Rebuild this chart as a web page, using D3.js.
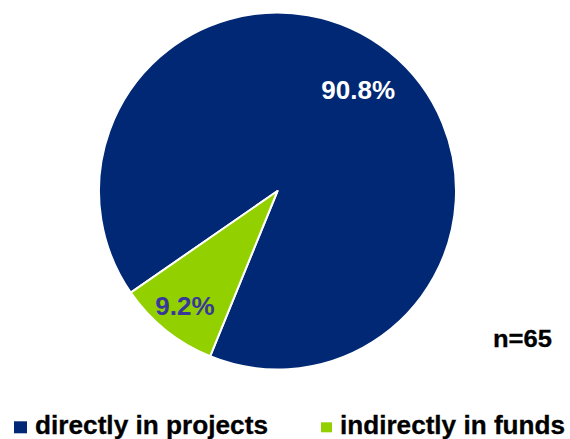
<!DOCTYPE html>
<html>
<head>
<meta charset="utf-8">
<script src="https://cdn.jsdelivr.net/npm/d3@7"></script>
<style>
  html, body { margin: 0; padding: 0; background: #fff; }
  svg { display: block; }
  text { font-family: "Liberation Sans", Arial, sans-serif; font-weight: bold; }
</style>
</head>
<body>
<svg id="chart" width="570" height="439"></svg>
<script>
// Investment channel shares
const categories = ["directly in projects", "indirectly in funds"];
const shares = [90.8, 9.2];
const sampleNote = "n=65";

const colors = ["#012874", "#92d000"];
const labelColors = ["#ffffff", "#38389a"];

const W = 570, H = 439;
const cx = 277.5, cy = 191, R = 178.5;
const startDeg = 235.3;

const svg = d3.select("#chart");

const pie = d3.pie()
  .sort(null)
  .value(d => d.value)
  .startAngle(startDeg * Math.PI / 180)
  .endAngle(startDeg * Math.PI / 180 + 2 * Math.PI);

const data = categories.map((c, i) => ({ name: c, value: shares[i], i }));
const arcs = pie(data);

const arc = d3.arc().innerRadius(0).outerRadius(R);

const g = svg.append("g").attr("transform", `translate(${cx},${cy})`);

g.selectAll("path.slice")
  .data(arcs)
  .join("path")
  .attr("class", "slice")
  .attr("d", arc)
  .attr("fill", d => colors[d.data.i])
  .attr("stroke", "#ffffff")
  .attr("stroke-width", 2)
  .attr("stroke-linejoin", "round");

// Value labels, placed along each slice's mid-angle
const labelRadius = [129, 148];
g.selectAll("text.value")
  .data(arcs)
  .join("text")
  .attr("class", "value")
  .attr("transform", d => {
    const r = labelRadius[d.data.i];
    const c = d3.arc().innerRadius(r).outerRadius(r).centroid(d);
    return `translate(${c[0]},${c[1]})`;
  })
  .attr("text-anchor", "middle")
  .attr("dominant-baseline", "central")
  .attr("font-size", 26)
  .attr("fill", d => labelColors[d.data.i])
  .text(d => d3.format(".1f")(d.data.value) + "%");

// Sample size note
svg.append("text")
  .attr("x", 493)
  .attr("y", 347)
  .attr("font-size", 24.5)
  .attr("textLength", 59)
  .attr("lengthAdjust", "spacingAndGlyphs")
  .attr("fill", "#000")
  .attr("stroke", "#000")
  .attr("stroke-width", 0.3)
  .text(sampleNote);

// Legend
const legendX = [14, 321];
const swatchW = [13, 11];
const swatchH = [12, 10];
const legendTextWidth = [233, 225];
const legend = svg.selectAll("g.legend")
  .data(categories)
  .join("g")
  .attr("class", "legend")
  .attr("transform", (d, i) => `translate(${legendX[i]},0)`);

legend.append("rect")
  .attr("x", 0)
  .attr("y", (d, i) => 427.3 - swatchH[i] / 2)
  .attr("width", (d, i) => swatchW[i])
  .attr("height", (d, i) => swatchH[i])
  .attr("fill", (d, i) => colors[i]);

legend.append("text")
  .attr("x", (d, i) => i === 0 ? 21 : 19)
  .attr("y", 433.5)
  .attr("font-size", 25)
  .attr("textLength", (d, i) => legendTextWidth[i])
  .attr("lengthAdjust", "spacingAndGlyphs")
  .attr("fill", "#000")
  .attr("stroke", "#000")
  .attr("stroke-width", 0.3)
  .text(d => d);
</script>
</body>
</html>
